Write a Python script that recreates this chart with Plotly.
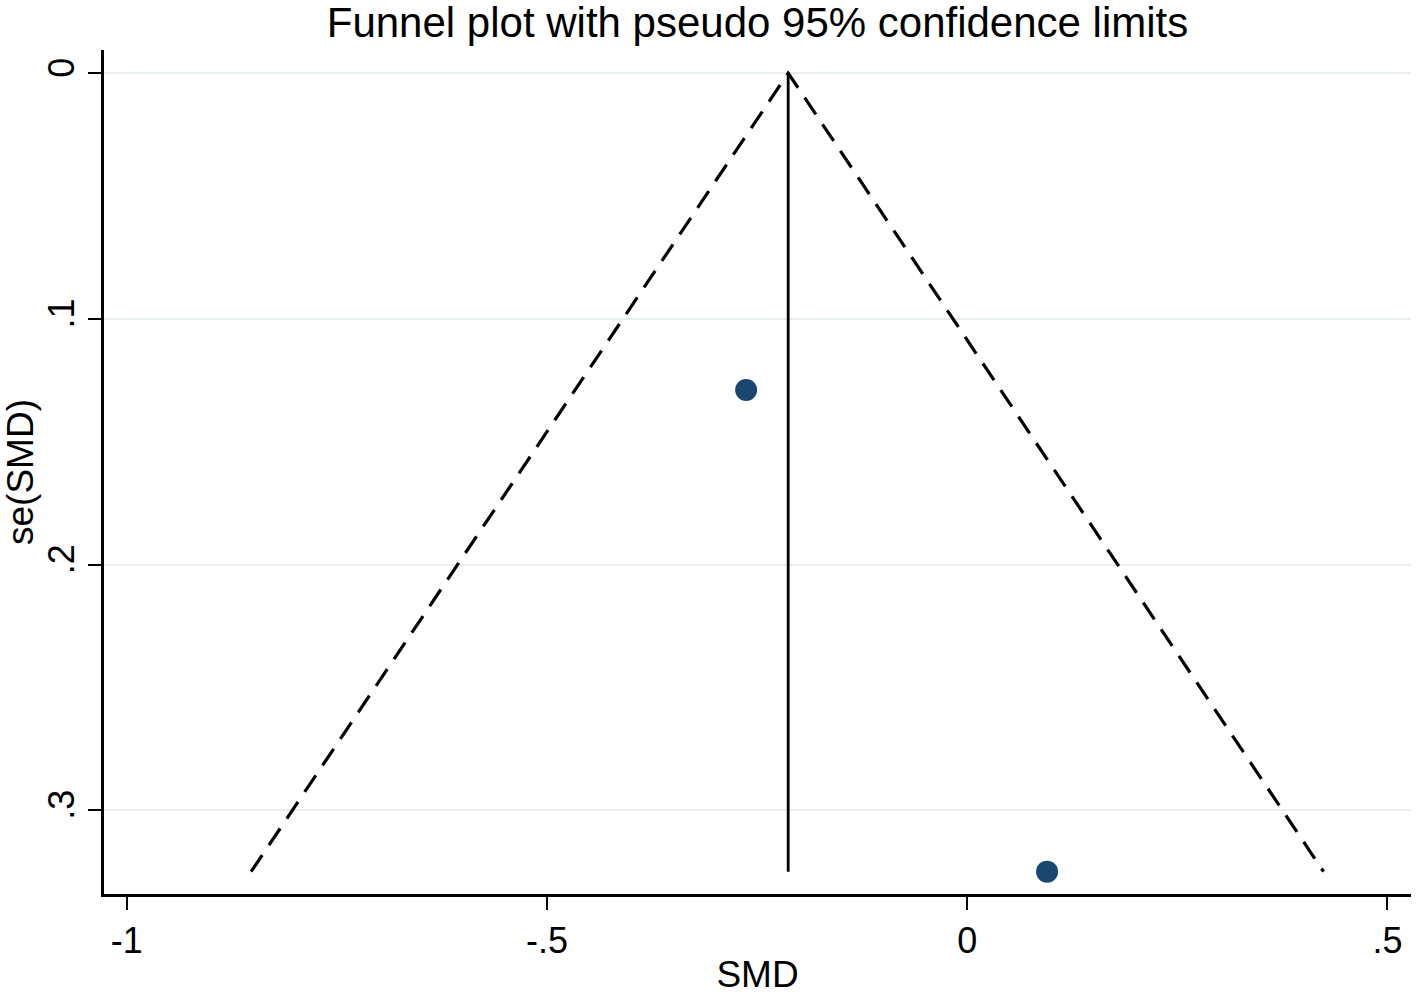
import plotly.graph_objects as go

# estudios (SMD y su error estandar)
smd = [-0.263, 0.095]
se_smd = [0.129, 0.325]

# limites pseudo 95% y estimacion combinada
funnel_x = [-0.852, -0.213, 0.424]
funnel_se = [0.325, 0.0, 0.325]
pooled_x = [-0.213, -0.213]
pooled_se = [0.0, 0.325]

x_ticks = [-1, -0.5, 0, 0.5]
x_labels = ["-1", "-.5", "0", ".5"]
y_ticks = [0, 0.1, 0.2, 0.3]
y_labels = ["0", ".1", ".2", ".3"]

FUENTE = 'Liberation Sans, Arial, sans-serif'

fig = go.Figure()

fig.add_trace(go.Scatter(x=funnel_x, y=funnel_se, mode='lines',
                         line=dict(color='black', width=3.2, dash='20px,12px'),
                         hoverinfo='skip'))
fig.add_trace(go.Scatter(x=pooled_x, y=pooled_se, mode='lines',
                         line=dict(color='black', width=2.8),
                         hoverinfo='skip'))
fig.add_trace(go.Scatter(x=smd, y=se_smd, mode='markers',
                         marker=dict(color='#1a476f', size=22)))

fig.update_layout(
    width=1417, height=995,
    showlegend=False,
    plot_bgcolor='white', paper_bgcolor='white',
    margin=dict(l=104, r=6, t=50, b=101),
    font=dict(family=FUENTE, size=36, color='black'),
    title=dict(text='Funnel plot with pseudo 95% confidence limits',
               x=0.5, xref='paper', xanchor='center',
               y=0.978, yanchor='middle', yref='container',
               font=dict(family=FUENTE, size=42, color='black')),
)

fig.update_xaxes(range=[-1.027, 0.528], tickvals=x_ticks, ticktext=x_labels,
                 automargin=False,
                 tickfont=dict(family=FUENTE, size=36, color='black'),
                 showgrid=False, zeroline=False, showline=True,
                 linecolor='black', linewidth=2.5,
                 ticks='outside', ticklen=13, tickwidth=2, tickcolor='black',
                 title=dict(text='SMD', standoff=4,
                            font=dict(family=FUENTE, size=37, color='black')))
fig.update_yaxes(range=[0.3341, -0.0094], tickvals=y_ticks, ticktext=y_labels,
                 tickangle=-90, automargin=False,
                 tickfont=dict(family=FUENTE, size=36, color='black'),
                 showgrid=True, gridcolor='#e6eef2', gridwidth=2,
                 zeroline=False, showline=True,
                 linecolor='black', linewidth=2.5,
                 ticks='outside', ticklen=13, tickwidth=2, tickcolor='black',
                 title=dict(text='se(SMD)', standoff=10,
                            font=dict(family=FUENTE, size=37, color='black')))

# quitar el margen del body para que la figura quede en (0, 0)
fig.write_html("out.html", config={'displayModeBar': False},
               post_script="document.body.style.margin='0';")
